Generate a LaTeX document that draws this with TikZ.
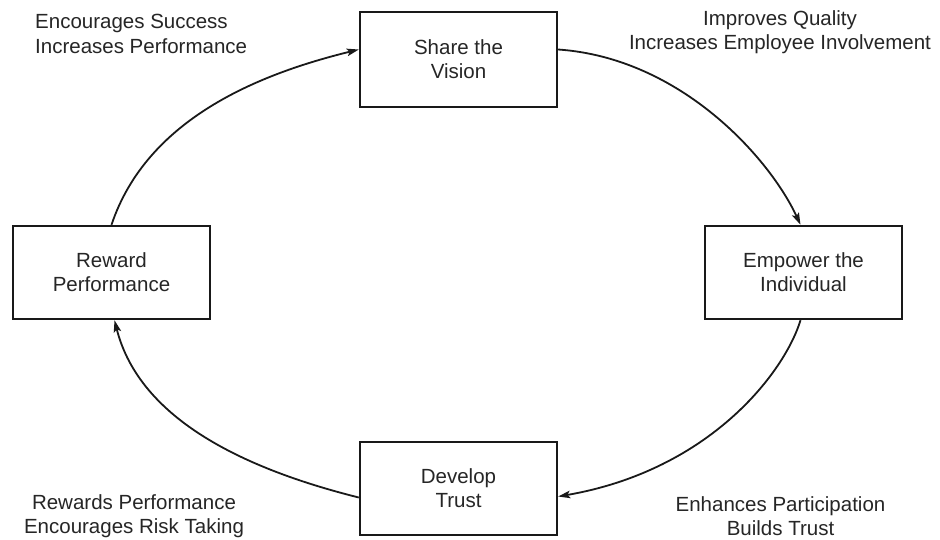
\documentclass[tikz,border=0pt]{standalone}
\usepackage{fontspec}
\setmainfont{Liberation Sans}
\usetikzlibrary{arrows.meta}
\tikzset{
  stagebox/.style={draw=black!90, line width=2.4pt, rectangle, minimum width=197pt, minimum height=93pt, inner sep=0pt, align=center, font=\fontsize{20.5}{24}\selectfont, text=black!85},
  effect/.style={inner sep=0pt, font=\fontsize{20.5}{24.5}\selectfont, text=black!85},
  cyclearrow/.style={draw=black!90, line width=1.8pt, -{Stealth[length=12pt,width=7.5pt,inset=2.5pt]}}
}
\begin{document}
\begin{tikzpicture}[x=1pt,y=-1pt]
\useasboundingbox[fill=white] (0,0) rectangle (940,539);
\node[stagebox, minimum height=95pt] (share) at (458.5,59.5) {Share the\\Vision};
\node[stagebox] (empower) at (803.5,272.5) {Empower the\\Individual};
\node[stagebox] (develop) at (458.5,488.5) {Develop\\Trust};
\node[stagebox] (reward) at (111.5,272.5) {Reward\\Performance};

\node[effect, align=left, anchor=west] (tl) at (35,34) {Encourages Success\\Increases Performance};
\node[effect, align=center] (tr) at (780,32) {Improves Quality\\Increases Employee Involvement};
\node[effect, align=center] (br) at (780.5,516) {Enhances Participation\\Builds Trust};
\node[effect, align=center] (bl) at (134,516) {Rewards Performance\\Encourages Risk Taking};

\draw[cyclearrow] (reward.north) .. controls +(35.5,-106) and +(-100,24.5) .. ([yshift=10pt]share.west);
\draw[cyclearrow] ([yshift=10pt]share.east) .. controls +(123,8.5) and +(-30.5,-66) .. ([xshift=-3pt]empower.north);
\draw[cyclearrow] ([xshift=-3pt]empower.south) .. controls +(-15.5,51) and +(153,-26.5) .. ([yshift=-8pt]develop.east);
\draw[cyclearrow] ([yshift=-9pt]develop.west) .. controls +(-110,-27.5) and +(25.5,101) .. ([xshift=3pt]reward.south);
\end{tikzpicture}
\end{document}
